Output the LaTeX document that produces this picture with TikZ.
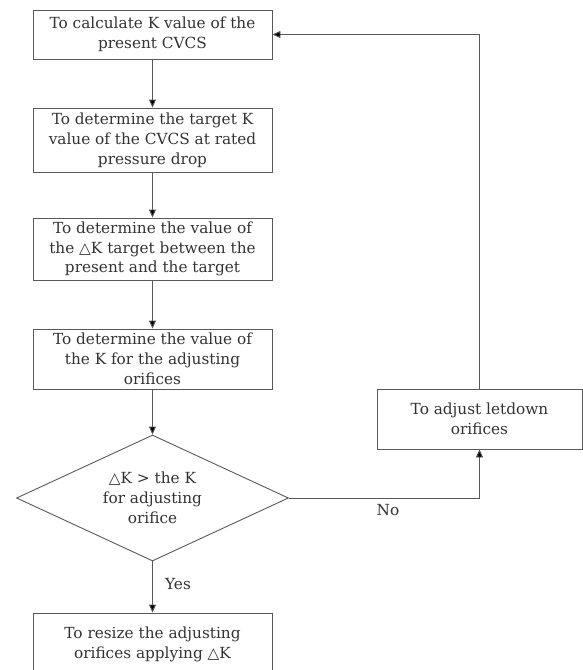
\documentclass[tikz,border=0pt]{standalone}
\usepackage{fontspec}
\setmainfont{DejaVu Serif}
\newfontfamily\symf{DejaVu Sans}
\usetikzlibrary{arrows.meta,shapes.geometric}
\newcommand{\tri}{{\symf △}}
\begin{document}
\begin{tikzpicture}[x=1pt,y=-1pt,
  txt/.style={text=black!80, font=\fontsize{15.3}{19.8}\selectfont},
  box/.style={txt, draw=black!65, line width=0.9pt, minimum width=239pt, inner sep=0pt,
    align=center},
  dec/.style={draw=black!65, line width=0.9pt, shape=diamond, minimum width=272pt,
    minimum height=126pt, inner sep=0pt},
  dectext/.style={txt, align=center, inner sep=0pt},
  lab/.style={txt, inner sep=0pt},
  arr/.style={draw=black!65, line width=0.9pt, -{Triangle[length=8pt,width=7pt,fill=black]}}
]
\clip (0,0) rectangle (583,670);
\useasboundingbox (0,0) rectangle (583,670);
\node[box, minimum height=49pt] (b1) at (152.5,34.5) {To calculate K value of the\\present CVCS};
\node[box, minimum height=64pt] (b2) at (152.5,140) {To determine the target K\\value of the CVCS at rated\\pressure drop};
\node[box, minimum height=62pt] (b3) at (152.5,249) {To determine the value of\\the \tri K target between the\\present and the target};
\node[box, minimum height=60pt] (b4) at (152.5,359) {To determine the value of\\the K for the adjusting\\orifices};
\node[dec] (d) at (152.5,498) {};
\node[dectext] (dt) at (d.center) {\tri K > the K\\for adjusting\\orifice};
\node[box, minimum width=205pt, minimum height=60pt] (b5) at (479.5,419) {To adjust letdown\\orifices};
\node[box, minimum height=62pt] (b6) at (152.5,644) {To resize the adjusting\\orifices applying \tri K};
\node[lab] (no) at (388,510) {No};
\node[lab] (yes) at (178,584) {Yes};
\draw[arr] (b1) -- (b2);
\draw[arr] (b2) -- (b3);
\draw[arr] (b3) -- (b4);
\draw[arr] (b4) -- (d.north);
\draw[arr] (d.south) -- (b6);
\draw[arr] (d.east) -| (b5.south);
\draw[arr] (b5.north) |- (b1.east);
\end{tikzpicture}
\end{document}
